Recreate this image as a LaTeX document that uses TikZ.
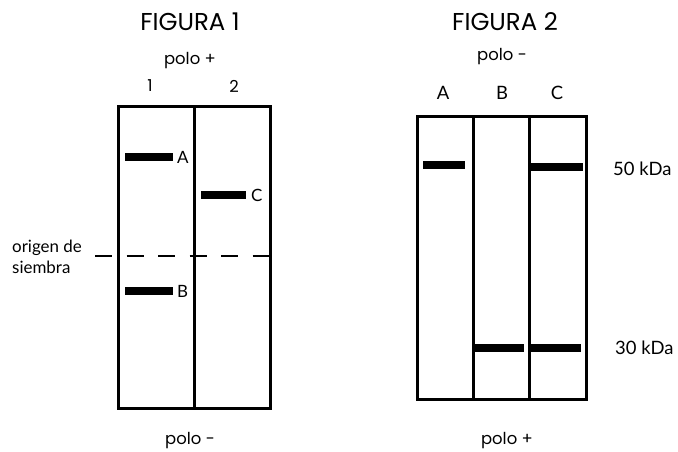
\documentclass[tikz,border=0pt]{standalone}
\usepackage{fontspec}
\setmainfont{Lato}
\newfontfamily\geofont{Poppins}
\begin{document}
\begin{tikzpicture}[x=1bp,y=-1bp,
    gel/.style={line width=3bp},
    band/.style={line width=8bp},
    lbl/.style={font=\fontsize{17}{19}\selectfont,inner sep=0pt},
    geo/.style={font=\geofont\fontsize{16.5}{18}\selectfont,inner sep=0pt},
    title/.style={font=\geofont\fontsize{24.5}{27}\selectfont,inner sep=0pt}]
    \useasboundingbox (0,0) rectangle (678,452);
    % figura 1
    \node[title] (t1) at (190,22) {FIGURA 1};
    \node[geo] (p1top) at (190,61) {polo +};
    \node[geo] (n1) at (150,86) {1};
    \node[geo] (n2) at (234,86) {2};
    \draw[dash pattern=on 17bp off 14.5bp,line width=1.2bp] (95,256) -- (270,256);
    \draw[gel] (118,107) rectangle (270,408);
    \draw[gel] (194,107) -- (194,408);
    \draw[band] (125,157) -- (173,157) node[lbl,right=0bp] (bA) {A};
    \draw[band] (201,195) -- (246,195) node[lbl,right=1bp] (bC) {C};
    \draw[band] (125,291) -- (173,291) node[lbl,right=0bp] (bB) {B};
    \node[lbl,align=left,anchor=west,font=\fontsize{17}{21}\selectfont] (orig) at (12,257) {origen de\\siembra};
    \node[geo] (p1bot) at (190,441) {polo -};
    % figura 2
    \node[title] (t2) at (505,22) {FIGURA 2};
    \node[geo] (p2top) at (502,57) {polo -};
    \node[lbl,font=\fontsize{18.5}{20}\selectfont] (cA) at (443,93) {A};
    \node[lbl,font=\fontsize{18.5}{20}\selectfont] (cB) at (502,93) {B};
    \node[lbl,font=\fontsize{18.5}{20}\selectfont] (cC) at (557,93) {C};
    \draw[gel] (417,117) rectangle (586,399);
    \draw[gel] (473,117) -- (473,399);
    \draw[gel] (529,117) -- (529,399);
    \draw[band] (423,165) -- (465,165);
    \draw[band] (531,167) -- (583,167);
    \draw[band] (475,348) -- (524,348);
    \draw[band] (531,348) -- (581,348);
    \node[lbl,anchor=west,font=\fontsize{18.5}{20}\selectfont] (k50) at (613,169) {50 kDa};
    \node[lbl,anchor=west,font=\fontsize{18.5}{20}\selectfont] (k30) at (615,348) {30 kDa};
    \node[geo] (p2bot) at (507,441) {polo +};
\end{tikzpicture}
\end{document}
